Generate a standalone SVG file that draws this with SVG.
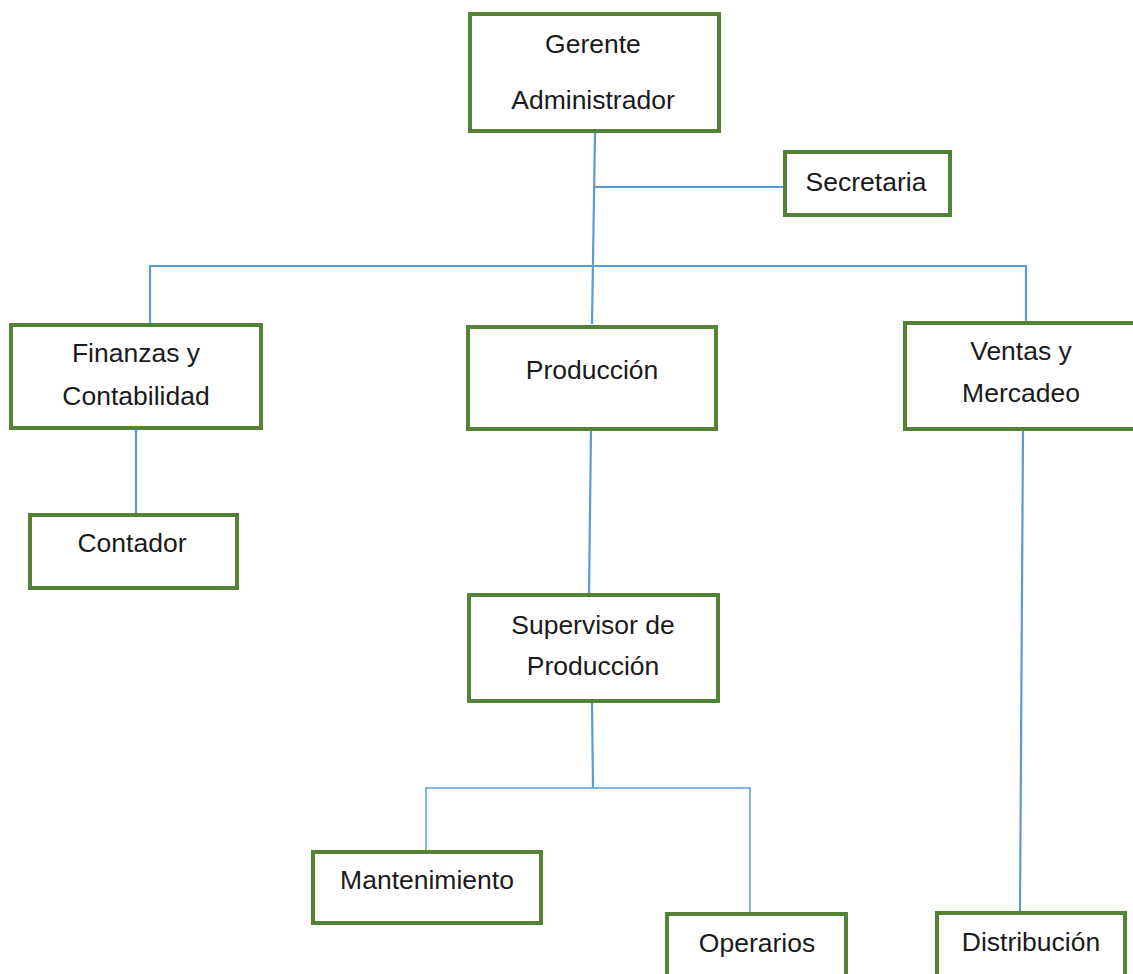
<svg xmlns="http://www.w3.org/2000/svg" width="1133" height="974" viewBox="0 0 1133 974">
<style>
.box{fill:#fff;stroke:#548235;stroke-width:4}
.t{font-family:"Liberation Sans",Arial,sans-serif;font-size:26.5px;fill:#1a1a1a;text-anchor:middle}
.c{stroke:#5b9bd5;stroke-width:2.2;fill:none}
.c2{stroke:#5b9bd5;stroke-width:1.5;fill:none}
</style>
<rect width="1133" height="974" fill="#fff"/>
<g id="connectors">
<line class="c" x1="595" y1="133" x2="592" y2="324"/>
<line class="c" x1="595" y1="187" x2="784" y2="187"/>
<polyline class="c" points="150,324 150,266 1026,266 1026,322"/>
<line class="c" x1="136" y1="430" x2="136" y2="514"/>
<line class="c" x1="591" y1="431" x2="589" y2="594"/>
<line class="c" x1="1023" y1="431" x2="1020" y2="912"/>
<line class="c" x1="592" y1="703" x2="593" y2="788"/>
<polyline class="c2" points="426,851 426,788 750,788 750,913"/>
</g>
<g id="gerente"><rect class="box" x="470" y="14" width="249" height="117"/><text class="t" x="593" y="53">Gerente</text><text class="t" x="593" y="109">Administrador</text></g>
<g id="secretaria"><rect class="box" x="785" y="152" width="165" height="63"/><text class="t" x="866" y="191">Secretaria</text></g>
<g id="finanzas"><rect class="box" x="11" y="325" width="250" height="103"/><text class="t" x="136" y="362">Finanzas y</text><text class="t" x="136" y="405">Contabilidad</text></g>
<g id="contador"><rect class="box" x="30" y="515" width="207" height="73"/><text class="t" x="132" y="552">Contador</text></g>
<g id="produccion"><rect class="box" x="468" y="327" width="248" height="102"/><text class="t" x="592" y="379">Producción</text></g>
<g id="ventas"><rect class="box" x="905" y="323" width="232" height="106"/><text class="t" x="1021" y="360">Ventas y</text><text class="t" x="1021" y="402">Mercadeo</text></g>
<g id="supervisor"><rect class="box" x="469" y="595" width="249" height="106"/><text class="t" x="593" y="634">Supervisor de</text><text class="t" x="593" y="675">Producción</text></g>
<g id="mantenimiento"><rect class="box" x="313" y="852" width="228" height="71"/><text class="t" x="427" y="889">Mantenimiento</text></g>
<g id="operarios"><rect class="box" x="667" y="914" width="179" height="70"/><text class="t" x="757" y="952">Operarios</text></g>
<g id="distribucion"><rect class="box" x="937" y="913" width="188" height="70"/><text class="t" x="1031" y="951">Distribución</text></g>
</svg>
